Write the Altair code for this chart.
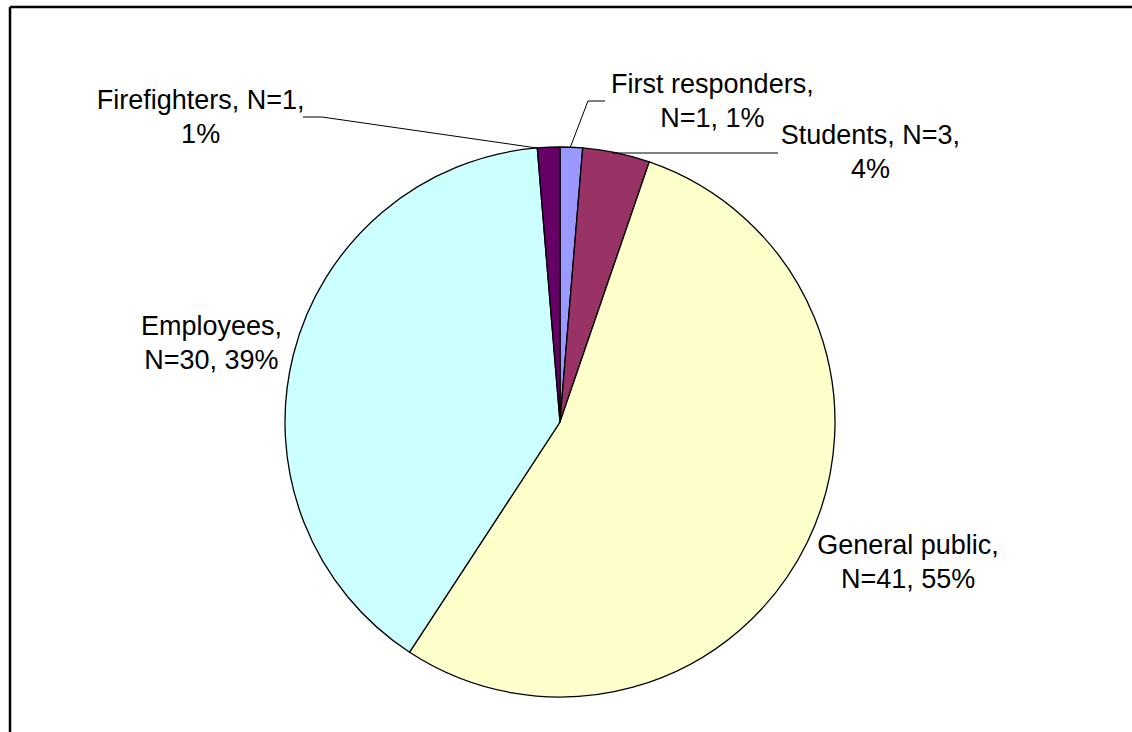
import altair as alt
import pandas as pd

# ---- data ----
categories = ["First responders", "Students", "General public", "Employees", "Firefighters"]
counts = [1, 3, 41, 30, 1]
percents = ["1%", "4%", "55%", "39%", "1%"]
labels = [
    "First responders,\nN=1, 1%",
    "Students, N=3,\n4%",
    "General public,\nN=41, 55%",
    "Employees,\nN=30, 39%",
    "Firefighters, N=1,\n1%",
]
colors = ["#9999FF", "#993366", "#FFFFCC", "#CCFFFF", "#660066"]

# ---- layout (label offsets from the slice midpoint on the rim) ----
label_dx = [141, 254, 101, -82, -348]
label_dy = [-62, -17, 3, -27, -46]
RADIUS = 275

df = pd.DataFrame({
    "category": categories,
    "n": counts,
    "label": labels,
    "order": list(range(len(categories))),
})

base = alt.Chart(df).encode(
    theta=alt.Theta("n:Q", stack=True),
    order=alt.Order("order:Q"),
)

arcs = base.mark_arc(outerRadius=RADIUS, stroke="black", strokeWidth=1.3).encode(
    color=alt.Color("category:N", scale=alt.Scale(domain=categories, range=colors), legend=None)
)

text_layers = []
for cat, dx, dy in zip(categories, label_dx, label_dy):
    t = base.mark_text(
        radius=RADIUS, dx=dx, dy=dy, font="Liberation Sans", fontSize=27,
        lineBreak="\n", lineHeight=34, align="center", baseline="middle", color="black",
    ).encode(
        detail="category:N",
        text=alt.condition(alt.datum.category == cat, "label:N", alt.value("")),
    )
    text_layers.append(t)

one = pd.DataFrame({"k": [0]})

def seg(x1, y1, x2, y2, w=1):
    return alt.Chart(one).mark_rule(color="black", strokeWidth=w).encode(
        x=alt.value(x1), y=alt.value(y1), x2=alt.value(x2), y2=alt.value(y2)
    )

# leader lines and the frame (view coordinates; view origin at page (10,112))
decor = [
    seg(293, 5, 312, 5), seg(312, 5, 527, 36),
    seg(595, -11, 578, -11), seg(578, -11, 560, 36),
    seg(768, 41, 602, 41),
    seg(0, -105, 1122, -105, 2.5),
    seg(0, -105, 0, 620, 2.5),
]

chart = alt.layer(arcs, *text_layers, *decor).properties(
    width=1100, height=620,
    padding={"left": 10, "top": 112, "right": 22, "bottom": 0},
    autosize=alt.AutoSizeParams(type="none"),
    background="white",
).configure_view(stroke=None)

chart.save("out.html", embed_options={"renderer": "svg", "actions": False})
